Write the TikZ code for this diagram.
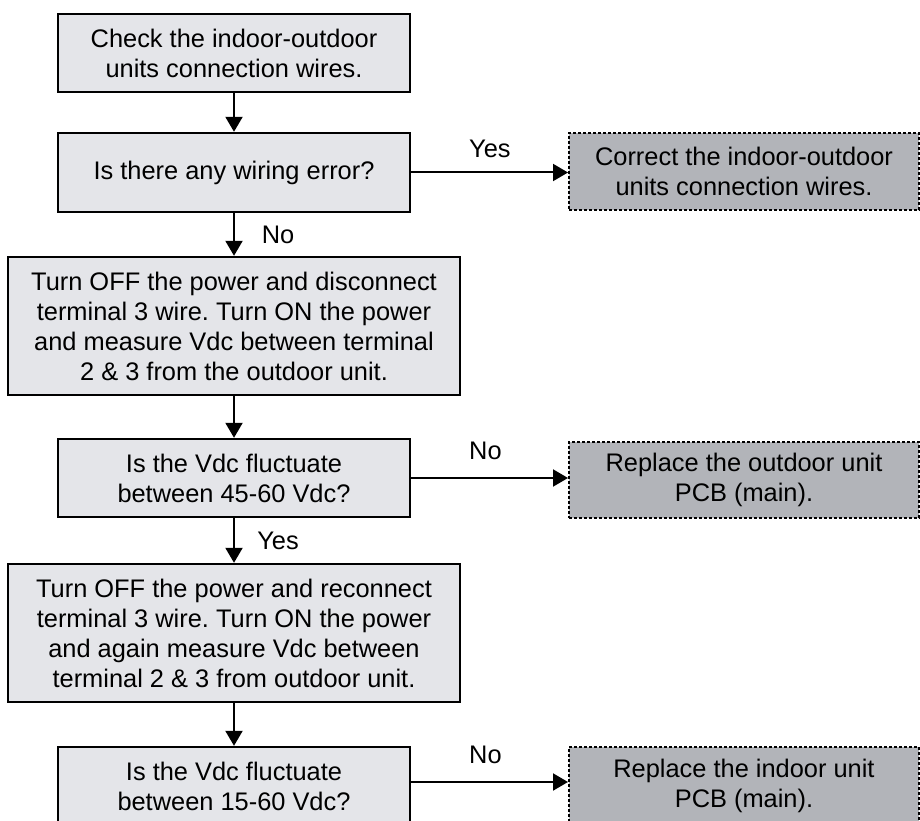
\documentclass[tikz,border=0pt]{standalone}
\usepackage{fontspec}
\setmainfont{Liberation Sans}
\usetikzlibrary{arrows.meta}
\definecolor{boxgray}{RGB}{228,229,233}
\definecolor{resgray}{RGB}{178,180,185}
\newcommand{\fcfont}{\fontsize{25.4}{30}\selectfont}
\frenchspacing
\tikzset{
  stepbox/.style={draw=black, line width=2.4pt, fill=boxgray, align=center, inner sep=0pt, font=\fcfont},
  resbox/.style={draw=black, line width=2pt, dash pattern=on 3pt off 2pt, fill=resgray, align=center, inner sep=0pt, font=\fcfont},
  arr/.style={line width=2pt, -{Triangle[width=17pt,length=15pt]}},
  lbl/.style={font=\fcfont, inner sep=0pt}
}
\begin{document}
\begin{tikzpicture}[x=1pt,y=-1pt]
\fill[white] (0,0) rectangle (920,821);
\useasboundingbox (0,0) rectangle (920,821);

\node[stepbox, minimum width=352, minimum height=78] (b1) at (234,53) {Check the indoor-outdoor\\units connection wires.};
\node[stepbox, minimum width=352, minimum height=79] (b2) at (234,172.5) {Is there any wiring error?};
\node[stepbox, minimum width=452, minimum height=138] (b3) at (234,326) {Turn OFF the power and disconnect\\terminal 3 wire. Turn ON the power\\and measure Vdc between terminal\\2 \& 3 from the outdoor unit.};
\node[stepbox, minimum width=352, minimum height=78] (b4) at (234,478) {Is the Vdc fluctuate\\between 45-60 Vdc?};
\node[stepbox, minimum width=452, minimum height=138] (b5) at (234,633) {Turn OFF the power and reconnect\\terminal 3 wire. Turn ON the power\\and again measure Vdc between\\terminal 2 \& 3 from outdoor unit.};
\node[stepbox, minimum width=352, minimum height=78] (b6) at (234,786) {Is the Vdc fluctuate\\between 15-60 Vdc?};

\node[resbox, minimum width=350, minimum height=77] (r1) at (744,171.5) {Correct the indoor-outdoor\\units connection wires.};
\node[resbox, minimum width=350, minimum height=76] (r2) at (744,480) {Replace the outdoor unit\\PCB (main).};
\node[resbox, minimum width=350, minimum height=78] (r3) at (744,786) {Replace the indoor unit\\PCB (main).};

\draw[arr] (b1) -- (b2);
\draw[arr] (b2) -- node[lbl, xshift=44pt] {No} (b3);
\draw[arr] (b3) -- (b4);
\draw[arr] (b4) -- node[lbl, xshift=44pt] {Yes} (b5);
\draw[arr] (b5) -- (b6);

\draw[arr] (b2.east) -- node[lbl, pos=0, anchor=west, xshift=57pt, yshift=24pt] {Yes} (b2.east -| r1.west);
\draw[arr] (b4.east) -- node[lbl, pos=0, anchor=west, xshift=57pt, yshift=27pt] {No} (b4.east -| r2.west);
\draw[arr] ([yshift=4pt]b6.east) -- node[lbl, pos=0, anchor=west, xshift=57pt, yshift=27pt] {No} ([yshift=4pt]b6.east -| r3.west);
\end{tikzpicture}
\end{document}
